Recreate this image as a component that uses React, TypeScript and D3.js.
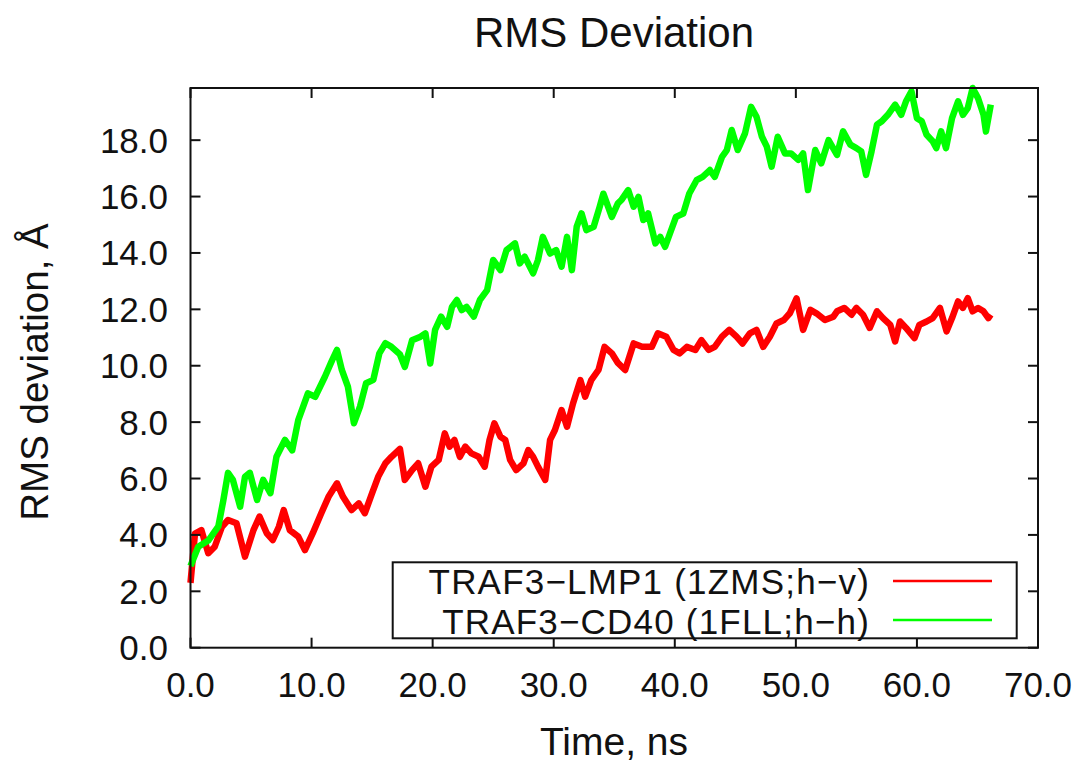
import React from "react";
import * as d3 from "d3";

const redT = [0.0,0.37,0.9,1.47,2.0,2.6,3.1,3.8,4.5,5.2,5.7,6.3,6.8,7.3,7.7,8.2,8.9,9.45,10.1,10.8,11.4,12.1,12.6,13.3,13.9,14.4,15.0,15.5,16.1,16.6,17.3,17.7,18.3,18.8,19.4,19.9,20.5,21.0,21.4,21.8,22.25,22.7,23.2,23.8,24.3,24.7,25.1,25.6,26.0,26.4,26.9,27.5,27.9,28.3,28.7,29.3,29.7,30.1,30.65,31.1,31.6,32.2,32.6,33.1,33.7,34.2,34.8,35.3,35.9,36.6,37.3,38.1,38.6,39.3,39.9,40.4,41.0,41.7,42.2,42.8,43.3,43.9,44.5,45.1,45.6,46.2,46.75,47.3,47.85,48.4,49.0,49.5,50.06,50.6,51.2,51.7,52.4,53.1,53.4,54.0,54.6,55.0,55.55,56.1,56.7,57.2,57.8,58.2,58.6,59.1,59.8,60.2,60.8,61.3,61.9,62.45,62.9,63.4,63.8,64.2,64.6,65.05,65.5,65.9,66.1];
const redV = [2.3,4.05,4.17,3.35,3.58,4.29,4.53,4.41,3.23,4.17,4.65,4.06,3.82,4.29,4.88,4.17,3.94,3.46,4.06,4.77,5.35,5.83,5.35,4.88,5.12,4.77,5.48,6.06,6.54,6.77,7.05,5.95,6.3,6.54,5.71,6.42,6.66,7.6,7.13,7.37,6.77,7.13,6.89,6.77,6.42,7.37,7.96,7.48,7.37,6.66,6.3,6.54,7.01,6.77,6.42,5.95,7.37,7.72,8.43,7.84,8.67,9.49,8.9,9.49,9.85,10.67,10.44,10.1,9.85,10.79,10.67,10.67,11.15,11.03,10.56,10.44,10.67,10.56,10.91,10.56,10.67,11.03,11.27,11.03,10.79,11.15,11.27,10.67,11.03,11.5,11.62,11.86,12.39,11.27,11.98,11.86,11.62,11.74,11.93,12.05,11.81,12.05,11.81,11.34,11.93,11.69,11.45,10.86,11.57,11.34,10.98,11.45,11.57,11.69,12.05,11.22,11.69,12.28,12.05,12.4,11.93,12.05,11.93,11.69,11.81];

const greenT = [0.0,0.64,1.47,2.3,2.7,3.1,3.5,4.1,4.5,4.9,5.5,6.0,6.6,7.1,7.8,8.4,8.9,9.7,10.3,11.1,11.7,12.1,12.5,13.0,13.5,14.0,14.5,15.1,15.6,16.1,16.6,17.3,17.7,18.3,19.0,19.4,19.8,20.2,20.7,21.2,21.6,22.0,22.4,22.8,23.4,23.9,24.5,25.0,25.6,26.1,26.8,27.2,27.6,28.3,28.7,29.1,29.7,30.2,30.65,31.1,31.5,31.9,32.3,32.7,33.3,33.8,34.1,34.8,35.3,35.6,36.15,36.6,37.0,37.4,37.8,38.4,38.8,39.2,39.6,40.1,40.7,41.2,41.8,42.3,42.9,43.3,43.9,44.3,44.7,45.2,45.8,46.3,46.75,47.2,47.6,48.0,48.5,49.1,49.6,50.2,50.6,51.0,51.6,52.1,52.7,53.4,53.9,54.5,55.0,55.4,55.8,56.25,56.7,57.1,57.6,58.2,58.7,59.1,59.55,60.0,60.4,60.8,61.3,61.6,62.0,62.4,62.9,63.4,63.8,64.2,64.6,65.05,65.5,65.7,66.1];
const greenV = [2.9,3.58,3.8,4.3,5.2,6.2,5.95,5.0,6.06,6.2,5.24,5.95,5.48,6.77,7.37,7.0,8.07,9.02,8.9,9.61,10.2,10.56,9.85,9.26,7.96,8.55,9.38,9.5,10.44,10.8,10.67,10.4,9.96,10.9,11.03,11.15,10.08,11.27,11.74,11.38,12.09,12.33,11.97,12.09,11.74,12.33,12.68,13.75,13.39,14.1,14.34,13.63,13.87,13.28,13.75,14.57,13.98,14.1,13.51,14.57,13.39,14.93,15.4,14.81,14.93,15.64,16.1,15.28,15.76,15.88,16.23,15.64,15.99,15.17,15.4,14.34,14.57,14.22,14.69,15.28,15.4,16.11,16.58,16.7,16.94,16.7,17.41,17.65,18.36,17.65,18.24,19.18,18.83,18.12,17.77,17.06,18.12,17.53,17.53,17.3,17.53,16.23,17.65,17.18,18.0,17.48,18.31,17.84,17.72,17.6,16.77,17.6,18.55,18.67,18.9,19.26,18.9,19.38,19.73,18.78,18.67,18.19,17.96,17.72,18.31,17.72,18.78,19.38,18.9,19.14,19.85,19.49,18.9,18.31,19.26];

const xTicks = [0, 10, 20, 30, 40, 50, 60, 70];
const xTickLabels = ["0.0", "10.0", "20.0", "30.0", "40.0", "50.0", "60.0", "70.0"];
const yTicks = [0, 2, 4, 6, 8, 10, 12, 14, 16, 18];
const yTickLabels = ["0.0", "2.0", "4.0", "6.0", "8.0", "10.0", "12.0", "14.0", "16.0", "18.0"];

const seriesNames = ["TRAF3\u2212LMP1 (1ZMS;h\u2212v)", "TRAF3\u2212CD40 (1FLL;h\u2212h)"];
const seriesColors = ["#ff0000", "#00ff00"];

const FONT = "'Liberation Sans', Arial, Helvetica, sans-serif";

export default function App() {
  const W = 1076, H = 762;
  const left = 190.5, right = 1038, top = 88, bottom = 647.7;
  const x = d3.scaleLinear().domain([0, 70]).range([left, right]);
  const y = d3.scaleLinear().domain([0, 19.85]).range([bottom, top]);
  const line = d3.line<[number, number]>().x(d => x(d[0])).y(d => y(d[1]));
  const red: [number, number][] = redT.map((t, i) => [t, redV[i]]);
  const green: [number, number][] = greenT.map((t, i) => [t, greenV[i]]);
  const tl = 10;

  return (
    <svg width={W} height={H} style={{ position: "absolute", left: 0, top: 0, background: "#fff" }} fontFamily={FONT}>
      <rect x={0} y={0} width={W} height={H} fill="#fff" />
      <text x={614} y={47} textAnchor="middle" fontSize={42} fill="#111">RMS Deviation</text>

      {/* data */}
      <path d={line(red) || ""} fill="none" stroke={seriesColors[0]} strokeWidth={6.5} strokeLinejoin="round" />
      <path d={line(green) || ""} fill="none" stroke={seriesColors[1]} strokeWidth={6.5} strokeLinejoin="round" />

      {/* frame */}
      <rect x={left} y={top} width={right - left} height={bottom - top} fill="none" stroke="#111" strokeWidth={2} />

      {xTicks.map((t, i) => (
        <g key={"x" + i}>
          <line x1={x(t)} x2={x(t)} y1={bottom} y2={bottom - tl} stroke="#111" strokeWidth={2} />
          <line x1={x(t)} x2={x(t)} y1={top} y2={top + tl} stroke="#111" strokeWidth={2} />
          <text x={x(t)} y={697} textAnchor="middle" fontSize={35} fill="#111">{xTickLabels[i]}</text>
        </g>
      ))}
      {yTicks.map((v, i) => (
        <g key={"y" + i}>
          <line x1={left} x2={left + tl} y1={y(v)} y2={y(v)} stroke="#111" strokeWidth={2} />
          <line x1={right} x2={right - tl} y1={y(v)} y2={y(v)} stroke="#111" strokeWidth={2} />
          <text x={168} y={y(v) + 12.5} textAnchor="end" fontSize={35} fill="#111">{yTickLabels[i]}</text>
        </g>
      ))}

      <text x={614} y={755} textAnchor="middle" fontSize={39} fill="#111">Time, ns</text>
      <text transform="translate(48,372) rotate(-90)" textAnchor="middle" fontSize={38.5} fill="#111">RMS deviation, Å</text>

      {/* legend */}
      <rect x={392.7} y={562.3} width={624} height={76} fill="#fff" stroke="#111" strokeWidth={2} />
      {seriesNames.map((n, i) => (
        <g key={"l" + i}>
          <text x={870} y={594 + i * 39.5} textAnchor="end" fontSize={35} letterSpacing={1.2} fill="#111">{n}</text>
          <line x1={893} x2={992} y1={581 + i * 39} y2={581 + i * 39} stroke={seriesColors[i]} strokeWidth={2.5} />
        </g>
      ))}
    </svg>
  );
}
